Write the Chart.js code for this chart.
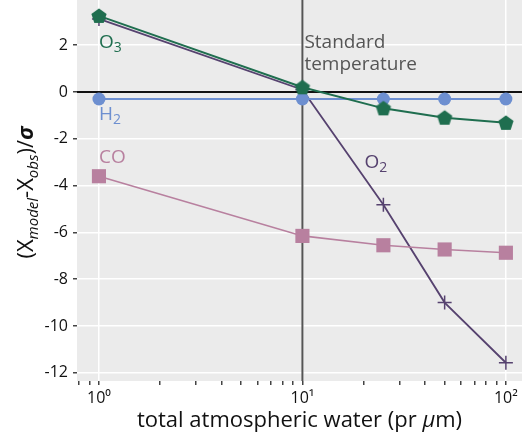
<!DOCTYPE html>
<html>
<head>
<meta charset="utf-8">
<script src="https://cdn.jsdelivr.net/npm/chart.js@4/dist/chart.umd.min.js"></script>
<style>
  html, body { margin: 0; padding: 0; background: #fff; }
  #wrap { width: 522px; height: 439px; }
</style>
</head>
<body>
<div id="wrap"><canvas id="chart"></canvas></div>
<script>
// water amounts (pr um) and the model - obs deviation per species
const water = [1, 10, 25, 50, 100];
const o3 = [3.25, 0.2, -0.7, -1.1, -1.32];
const h2 = [-0.3, -0.3, -0.3, -0.3, -0.3];
const co = [-3.6, -6.15, -6.55, -6.73, -6.87];
const o2 = [3.12, 0.1, -4.82, -9.0, -11.57];

const yTicks = [-12, -10, -8, -6, -4, -2, 0, 2];
const xMajor = [1, 10, 100];
const xLabels = ['10⁰', '10¹', '10²'];
const standardTemp = 10;

const FONT = '"Open Sans", "Noto Sans", sans-serif';
const colors = {
    o3: '#1f6e4f',
    h2: '#6d8fd0',
    co: '#b8809f',
    o2: '#56426f'
};

// pentagon marker, not built into Chart.js
function pentagon(color, r) {
    const c = document.createElement('canvas');
    c.width = c.height = Math.ceil(r * 2 + 2);
    const g = c.getContext('2d');
    g.translate(c.width / 2, c.height / 2 + 0.5);
    g.beginPath();
    for (let i = 0; i < 5; i++) {
        const a = -Math.PI / 2 + i * 2 * Math.PI / 5;
        g.lineTo(r * Math.cos(a), r * Math.sin(a));
    }
    g.closePath();
    g.fillStyle = color;
    g.fill();
    return c;
}

function pts(arr) {
    return arr.map((v, i) => ({ x: water[i], y: v }));
}

// minor ticks of the log axis
const xTicks = [];
for (let d = 0.1; d <= 100; d *= 10) {
    for (let k = 1; k < 10; k++) {
        const v = +(k * d).toPrecision(3);
        if (v >= 0.78 && v <= 120) xTicks.push(v);
    }
}

// draw text pieces with sub/italic styles in a row
function drawRuns(ctx, runs, x, y, align) {
    let total = 0;
    runs.forEach(r => { ctx.font = r.font; r.w = ctx.measureText(r.t).width; total += r.w; });
    let cx = align === 'center' ? x - total / 2 : x;
    runs.forEach(r => {
        ctx.font = r.font;
        ctx.fillStyle = r.color || ctx.fillStyle;
        ctx.fillText(r.t, cx, y + (r.dy || 0));
        cx += r.w;
    });
}

const decor = {
    id: 'decor',
    beforeDraw(chart) {
        const { ctx, chartArea: a } = chart;
        ctx.save();
        ctx.fillStyle = '#ebebeb';
        ctx.fillRect(a.left, a.top, a.right - a.left, a.bottom - a.top);
        ctx.restore();
    },
    beforeDatasetsDraw(chart) {
        const { ctx, chartArea: a, scales: { x, y } } = chart;
        ctx.save();
        // zero line
        ctx.strokeStyle = '#111';
        ctx.lineWidth = 2;
        ctx.beginPath();
        ctx.moveTo(a.left, y.getPixelForValue(0));
        ctx.lineTo(a.right, y.getPixelForValue(0));
        ctx.stroke();
        // standard temperature line
        const sx = x.getPixelForValue(standardTemp);
        ctx.strokeStyle = '#555';
        ctx.beginPath();
        ctx.moveTo(sx, a.top);
        ctx.lineTo(sx, a.bottom);
        ctx.stroke();
        ctx.restore();
    },
    afterDraw(chart) {
        const { ctx, chartArea: a, scales: { x, y } } = chart;
        ctx.save();
        ctx.textBaseline = 'alphabetic';
        ctx.textAlign = 'left';
        const big = '19px ' + FONT;
        const sub = '14px ' + FONT;

        // series labels
        const lab = (name, s, color, px, py) => {
            drawRuns(ctx, [
                { t: name, font: big, color: color },
                { t: s, font: sub, color: color, dy: 4 }
            ], px, py, 'left');
        };
        const x1 = x.getPixelForValue(1);
        lab('O', '3', colors.o3, x1, y.getPixelForValue(1.88));
        lab('H', '2', colors.h2, x1, y.getPixelForValue(-1.2));
        lab('CO', '', colors.co, x1, y.getPixelForValue(-3.03));
        lab('O', '2', colors.o2, x.getPixelForValue(20.2), y.getPixelForValue(-3.25));

        // standard temperature note
        ctx.font = '19px ' + FONT;
        ctx.fillStyle = '#555';
        const sx = x.getPixelForValue(standardTemp) + 2;
        ctx.fillText('Standard', sx, 48);
        ctx.fillText('temperature', sx, 70);

        // x title
        ctx.fillStyle = '#111';
        drawRuns(ctx, [
            { t: 'total atmospheric water (pr ', font: '22px ' + FONT },
            { t: 'μ', font: 'italic 22px ' + FONT },
            { t: 'm)', font: '22px ' + FONT }
        ], (a.left + a.right) / 2, 427, 'center');

        // y title, rotated
        ctx.translate(33, (a.top + a.bottom) / 2 + 2);
        ctx.rotate(-Math.PI / 2);
        drawRuns(ctx, [
            { t: '(X', font: '22px ' + FONT },
            { t: 'model', font: 'italic 15px ' + FONT, dy: 5 },
            { t: '-X', font: '22px ' + FONT },
            { t: 'obs', font: 'italic 15px ' + FONT, dy: 5 },
            { t: ')/', font: '22px ' + FONT },
            { t: 'σ', font: 'italic bold 22px ' + FONT }
        ], 0, 0, 'center');
        ctx.restore();
    }
};

const ctx = document.getElementById('chart').getContext('2d');
new Chart(ctx, {
    type: 'line',
    data: {
        datasets: [
            {
                label: 'O3', data: pts(o3), borderColor: colors.o3, borderWidth: 2,
                pointStyle: pentagon(colors.o3, 8), pointRadius: 8
            },
            {
                label: 'H2', data: pts(h2), borderColor: colors.h2, backgroundColor: colors.h2,
                borderWidth: 1.8, pointStyle: 'circle', pointRadius: 6.5, pointBorderWidth: 0
            },
            {
                label: 'CO', data: pts(co), borderColor: colors.co, backgroundColor: colors.co,
                borderWidth: 1.6, pointStyle: 'rect', pointRadius: 10, pointBorderWidth: 0
            },
            {
                label: 'O2', data: pts(o2), borderColor: colors.o2, borderWidth: 1.8,
                pointStyle: 'cross', pointRadius: 7, pointBorderWidth: 1.5
            }
        ]
    },
    options: {
        responsive: true,
        maintainAspectRatio: false,
        animation: false,
        layout: { padding: 0, autoPadding: false },
        plugins: {
            legend: { display: false },
            tooltip: { enabled: false }
        },
        scales: {
            x: {
                type: 'logarithmic',
                min: 0.78,
                max: 120,
                border: { display: false },
                grid: {
                    color: c => xMajor.includes(c.tick && c.tick.value) ? '#ffffff' : 'rgba(0,0,0,0)',
                    lineWidth: 1.5,
                    tickColor: '#444',
                    tickLength: 4
                },
                ticks: {
                    autoSkip: false,
                    maxRotation: 0,
                    padding: 4,
                    color: '#111',
                    font: { family: FONT, size: 16 },
                    callback: v => {
                        const i = xMajor.indexOf(v);
                        return i >= 0 ? xLabels[i] : '';
                    }
                },
                afterBuildTicks: s => { s.ticks = xTicks.map(v => ({ value: v })); },
                afterFit: s => { s.height = 58; s.paddingLeft = 0; s.paddingRight = 0; }
            },
            y: {
                min: -12.35,
                max: 3.93,
                border: { display: false },
                grid: { color: '#ffffff', lineWidth: 1.5, tickColor: '#444', tickLength: 4 },
                ticks: {
                    padding: 5,
                    color: '#111',
                    font: { family: FONT, size: 16 }
                },
                afterBuildTicks: s => { s.ticks = yTicks.map(v => ({ value: v })); },
                afterFit: s => { s.width = 77; s.paddingTop = 0; s.paddingBottom = 0; }
            }
        }
    },
    plugins: [decor]
});
</script>
</body>
</html>
